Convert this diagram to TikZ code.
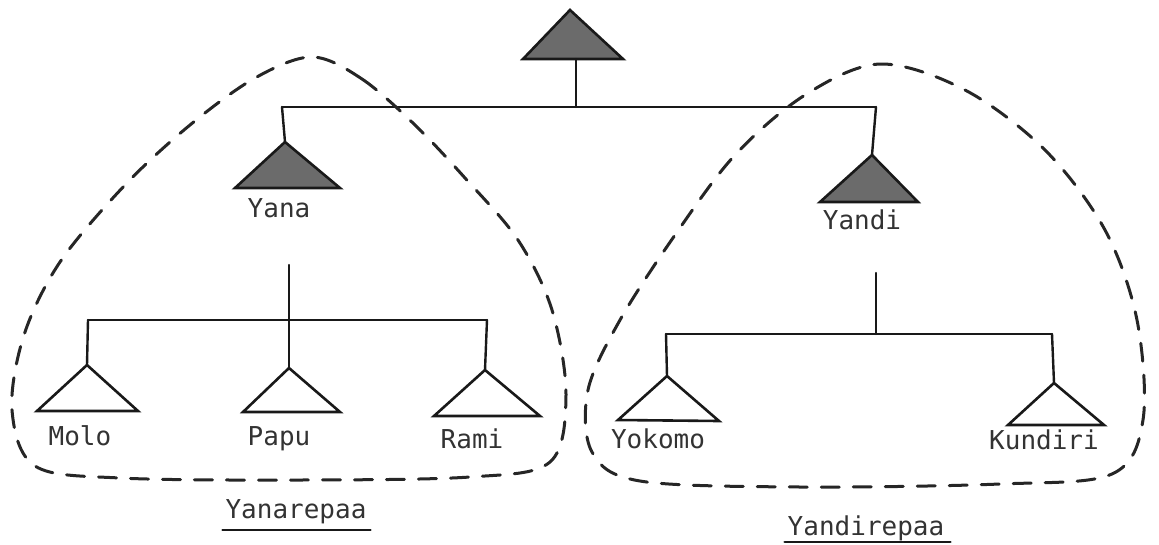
\documentclass[tikz,border=0pt]{standalone}
\usepackage{fontspec}
\newfontfamily\tw{DejaVu Sans Mono}
\begin{document}
\begin{tikzpicture}[x=1pt,y=-1pt,
  ln/.style={line width=2.4pt, line cap=round, draw=black!90},
  tri/.style={line width=2.6pt, line join=miter, draw=black!90},
  hatched/.style={tri, fill=black!58},
  open/.style={tri, fill=white},
  lbl/.style={font=\tw\fontsize{26}{30}\selectfont, inner sep=0pt, text=black!80, anchor=base},
  blob/.style={line width=3pt, dash pattern=on 18pt off 14pt, line cap=round, draw=black!85}]
\useasboundingbox (0,0) rectangle (1159,544);
% coordinates
\coordinate (top) at (570,10);
\coordinate (topb) at (576,59);
\coordinate (hl) at (282,107);
\coordinate (hr) at (876,107);
\coordinate (hm) at (576,107);
\coordinate (yana) at (285,142);
\coordinate (yandi) at (872,155);
% top triangle
\draw[hatched] (top) -- (623,59) -- (523,59) -- cycle;
\draw[ln] (topb) -- (hm);
\draw[ln] (hl) -- (hr);
\draw[ln] (hl) -- (yana);
\draw[ln] (hr) -- (yandi);
\draw[hatched] (yana) -- (340,188) -- (235,188) -- cycle;
\draw[hatched] (yandi) -- (918,202) -- (820,202) -- cycle;
\node[lbl] (yanal) at (279,217) {Yana};
\node[lbl] (yandil) at (862,229) {Yandi};
% Yana subtree
\coordinate (ys) at (289,265);
\coordinate (yj) at (289,320);
\coordinate (yl) at (88,320);
\coordinate (yr) at (487,320);
\coordinate (molo) at (87,365);
\coordinate (papu) at (289,368);
\coordinate (rami) at (485,370);
\draw[ln] (ys) -- (yj);
\draw[ln] (yl) -- (yr);
\draw[ln] (yl) -- (molo);
\draw[ln] (yj) -- (papu);
\draw[ln] (yr) -- (rami);
\draw[open] (molo) -- (138,411) -- (37,411) -- cycle;
\draw[open] (papu) -- (340,412) -- (243,412) -- cycle;
\draw[open] (rami) -- (540,416) -- (434,416) -- cycle;
\node[lbl] (molol) at (80,445) {Molo};
\node[lbl] (papul) at (279,445) {Papu};
\node[lbl] (ramil) at (472,448) {Rami};
% Yandi subtree
\coordinate (ds) at (876,273);
\coordinate (dj) at (876,334);
\coordinate (dl) at (666,334);
\coordinate (dr) at (1052,334);
\coordinate (yok) at (667,376);
\coordinate (kun) at (1054,383);
\draw[ln] (ds) -- (dj);
\draw[ln] (dl) -- (dr);
\draw[ln] (dl) -- (yok);
\draw[ln] (dr) -- (kun);
\draw[open] (yok) -- (719,421) -- (618,420) -- cycle;
\draw[open] (kun) -- (1104,425) -- (1008,425) -- cycle;
\node[lbl] (yokl) at (658,448) {Yokomo};
\node[lbl] (kunl) at (1044,449) {Kundiri};
% group labels
\node[lbl] (gl) at (296,518) {Yanarepaa};
\node[lbl] (gr) at (866,535) {Yandirepaa};
\draw[ln, line width=2.2pt] ([shift={(-3,12)}]gl.base west) -- ([shift={(4,12)}]gl.base east);
\draw[ln, line width=2.2pt] ([shift={(-3,7)}]gr.base west) -- ([shift={(6,7)}]gr.base east);
% dashed groupings
\draw[blob] plot[smooth cycle, tension=0.55] coordinates {
 (312,57) (362,79) (415,125) (465,178) (518,240) (552,310) (566,395) (550,462) (470,477)
 (300,480) (120,478) (35,466) (12,410) (24,335) (60,262) (125,185) (190,125) (255,78)};
\draw[blob] plot[smooth cycle, tension=0.55] coordinates {
 (880,64) (965,90) (1045,150) (1105,230) (1137,320) (1143,420) (1112,474)
 (1000,484) (800,487) (640,481) (592,452) (588,390) (620,320) (675,235)
 (735,155) (805,95)};
\end{tikzpicture}
\end{document}
